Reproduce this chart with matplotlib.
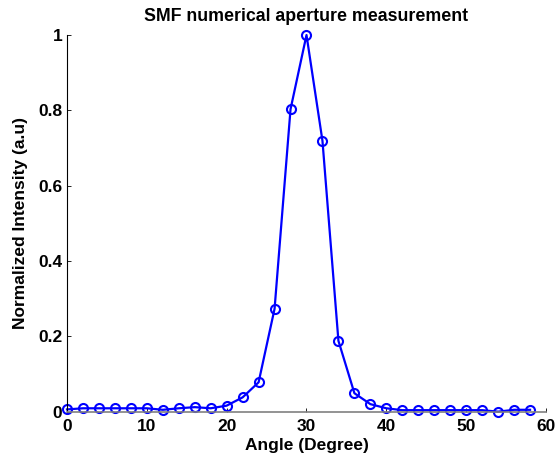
import matplotlib
matplotlib.use("Agg")
import matplotlib.pyplot as plt

# angle (degree) and normalized intensity
angle = [0, 2, 4, 6, 8, 10, 12, 14, 16, 18, 20, 22, 24, 26, 28,
         30, 32, 34, 36, 38, 40, 42, 44, 46, 48, 50, 52, 54, 56, 58]
intensity = [0.006, 0.009, 0.009, 0.009, 0.009, 0.009, 0.005, 0.009, 0.012, 0.009,
             0.016, 0.038, 0.078, 0.273, 0.803, 1.0, 0.719, 0.188, 0.049, 0.020,
             0.009, 0.004, 0.004, 0.004, 0.004, 0.004, 0.004, 0.0, 0.005, 0.005]
xticks = [0, 10, 20, 30, 40, 50, 60]
yticks = [0, 0.2, 0.4, 0.6, 0.8, 1]
ytick_labels = ['0', '0.2', '0.4', '0.6', '0.8', '1']

plt.rcParams['font.family'] = ['Liberation Sans', 'DejaVu Sans']
plt.rcParams['font.weight'] = 'bold'

fig = plt.figure(figsize=(5.55, 4.61), dpi=100)
ax = fig.add_axes([0.1207, 0.107, 0.8631, 0.817])

ax.plot(angle, intensity, '-o', color='#0000ff', lw=1.6,
        markersize=6.5, markerfacecolor='none', markeredgewidth=1.5, clip_on=False)

ax.set_xlim(0, 60)
ax.set_ylim(0, 1)
ax.set_xticks(xticks)
ax.set_yticks(yticks)
ax.set_yticklabels(ytick_labels)
ax.tick_params(direction='in', length=3, width=0.6, labelsize=12.5)
ax.tick_params(axis='x', pad=5.5)
ax.tick_params(axis='y', pad=3.5)

ax.spines['top'].set_visible(False)
ax.spines['right'].set_visible(False)
ax.spines['left'].set_color('black')
ax.spines['bottom'].set_color('#808080')
ax.spines['bottom'].set_linewidth(1.2)

ax.set_title('SMF numerical aperture measurement', fontsize=12.8, fontweight='bold', pad=10)
ax.set_xlabel('Angle (Degree)', fontsize=12.5, fontweight='bold', labelpad=3)
ax.set_ylabel('Normalized Intensity (a.u)', fontsize=12.5, fontweight='bold', labelpad=7)

fig.savefig('out.png', dpi=100)
